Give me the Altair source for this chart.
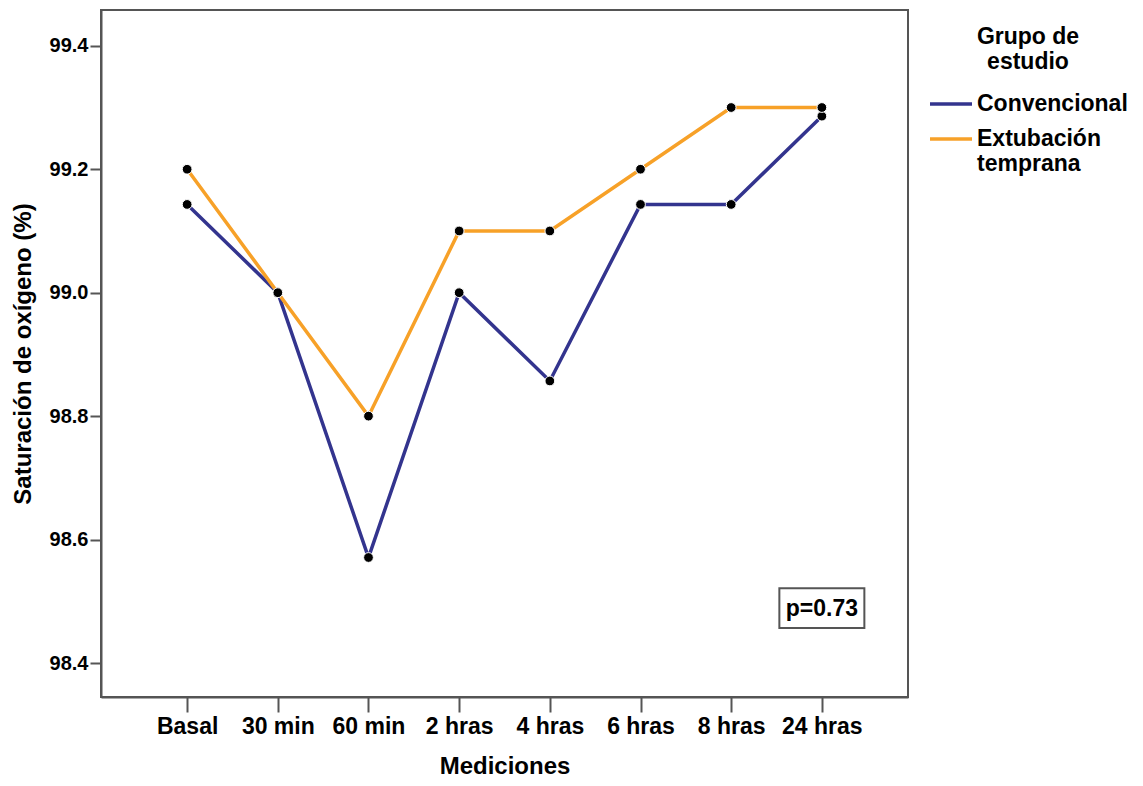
import altair as alt
import pandas as pd

# Measurement times (x categories)
mediciones = ["Basal", "30 min", "60 min", "2 hras", "4 hras", "6 hras", "8 hras", "24 hras"]

# Mean oxygen saturation (%) per study group
convencional = [99.143, 99.0, 98.571, 99.0, 98.857, 99.143, 99.143, 99.286]
extubacion = [99.2, 99.0, 98.8, 99.1, 99.1, 99.2, 99.3, 99.3]

grupos = ["Convencional", "Extubación temprana"]
colores = ["#33348e", "#f7a128"]

p_label = "p=0.73"
p_pos = ("24 hras", 98.489)

rows = []
for m, v in zip(mediciones, convencional):
    rows.append({"Mediciones": m, "valor": v, "Grupo": grupos[0]})
for m, v in zip(mediciones, extubacion):
    rows.append({"Mediciones": m, "valor": v, "Grupo": grupos[1]})
df = pd.DataFrame(rows)

FONT = "Liberation Sans"

x_enc = alt.X(
    "Mediciones:N",
    sort=mediciones,
    scale=alt.Scale(type="point", padding=0.95),
    axis=alt.Axis(
        title="Mediciones",
        labelAngle=0,
        tickSize=15,
        labelPadding=3,
        titlePadding=16,
        labelFontSize=23,
        titleFontSize=24,
    ),
)
y_enc = alt.Y(
    "valor:Q",
    scale=alt.Scale(domain=[98.345, 99.458], nice=False, zero=False),
    axis=alt.Axis(
        title="Saturación de oxígeno (%)",
        values=[98.4, 98.6, 98.8, 99.0, 99.2, 99.4],
        format=".1f",
        tickSize=11,
        labelPadding=2,
        titlePadding=14,
        labelFontSize=20,
        titleFontSize=24,
        grid=False,
    ),
)

color_enc = alt.Color(
    "Grupo:N",
    scale=alt.Scale(domain=grupos, range=colores),
    legend=alt.Legend(
        title=["Grupo de", "estudio"],
        orient="none",
        legendX=827,
        legendY=16,
        titleAnchor="middle",
        titleAlign="center",
        titleFontSize=23,
        titleLineHeight=25,
        labelFontSize=23,
        labelExpr="datum.label == 'Extubación temprana' ? ['Extubación', 'temprana'] : datum.label",
        symbolType="stroke",
        symbolStrokeWidth=3.5,
        symbolSize=1764,
        labelOffset=3,
        rowPadding=-5,
        titlePadding=7,
    ),
)

base = alt.Chart(df)

lines = base.mark_line(strokeWidth=3.5).encode(x=x_enc, y=y_enc, color=color_enc)

points = base.mark_point(
    filled=True, fill="black", stroke="white", strokeWidth=1, size=95, opacity=1
).encode(x=x_enc, y=y_enc, detail="Grupo:N")

pdf = pd.DataFrame({"Mediciones": [p_pos[0]], "valor": [p_pos[1]], "texto": [p_label]})

pbox = alt.Chart(pdf).mark_point(
    shape="M-1,-0.47L1,-0.47L1,0.47L-1,0.47Z",
    size=7225,
    filled=True,
    fill="white",
    stroke="#555555",
    strokeWidth=2,
    opacity=1,
).encode(x=alt.X("Mediciones:N", sort=mediciones), y="valor:Q")

ptext = alt.Chart(pdf).mark_text(
    font=FONT, fontSize=23, fontWeight="bold", color="black", baseline="middle", align="center", dy=1
).encode(x=alt.X("Mediciones:N", sort=mediciones), y="valor:Q", text="texto:N")

chart = (
    alt.layer(lines, points, pbox, ptext)
    .properties(
        width=807,
        height=687,
        autosize=alt.AutoSizeParams(type="none"),
        padding={"left": 101, "top": 10, "right": 235, "bottom": 89},
    )
    .configure(font=FONT, background="white")
    .configure_view(stroke="#555555", strokeWidth=2)
    .configure_axis(
        domainColor="#555555",
        domainWidth=2,
        tickColor="#555555",
        tickWidth=2,
        labelFont=FONT,
        titleFont=FONT,
        labelFontWeight="bold",
        titleFontWeight="bold",
        labelColor="black",
        titleColor="black",
    )
    .configure_legend(
        labelFont=FONT,
        titleFont=FONT,
        labelFontWeight="bold",
        titleFontWeight="bold",
        labelColor="black",
        titleColor="black",
    )
)

chart.save("out.html", embed_options={"renderer": "svg", "actions": False})
